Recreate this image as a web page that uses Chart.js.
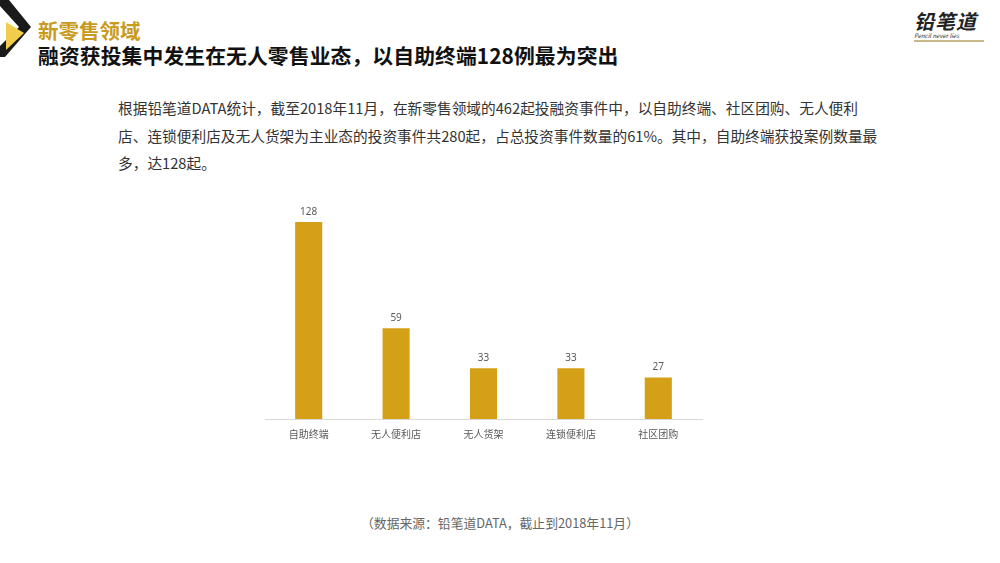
<!DOCTYPE html>
<html>
<head>
<meta charset="utf-8">
<script src="https://cdn.jsdelivr.net/npm/chart.js@4"></script>
<style>
  body { margin: 0; width: 1000px; height: 563px; background: #fff; position: relative; overflow: hidden;
         font-family: "Noto Sans CJK SC", "Noto Sans", sans-serif; }
  #mark { position: absolute; left: 0; top: 0; }
  #sub { position: absolute; left: 38px; top: 17px; font-size: 20.5px; font-weight: bold; color: #c89b1e; line-height: 26px; }
  #title { position: absolute; left: 38px; top: 42px; font-size: 20.8px; font-weight: bold; color: #111; line-height: 26px; letter-spacing: 0.1px; }
  #logo { position: absolute; left: 914px; top: 10px; width: 76px; }
  #logo .big { font-size: 20px; font-weight: bold; font-style: italic; color: #222; line-height: 22px; letter-spacing: 1px; }
  #logo .small { font-size: 6px; font-style: italic; color: #333; line-height: 7px; }
  #logo .bar { height: 2px; background: #c9b98a; margin-top: 1px; width: 70px; }
  #desc { position: absolute; left: 118px; top: 94px; font-size: 14.7px; color: #333; line-height: 27.5px; }
  #wrap { position: absolute; left: 255px; top: 190px; width: 457px; height: 260px; }
  #source { position: absolute; left: 0; width: 1000px; top: 513px; text-align: center; font-size: 12.8px; color: #666; }
</style>
</head>
<body>
<svg id="mark" width="40" height="60">
  <polygon points="0,0 9,0 31,27 5,57 0,57 0,46 19,27 0,6" fill="#1a1a1a"/>
  <polygon points="6,22 24,33 6,50" fill="#f2cd4b"/>
</svg>
<div id="sub">新零售领域</div>
<div id="title">融资获投集中发生在无人零售业态，以自助终端128例最为突出</div>
<div id="logo">
  <div class="big">铅笔道</div>
  <div class="small">Pencil never lies</div>
  <div class="bar"></div>
</div>
<div id="desc">根据铅笔道DATA统计，截至2018年11月，在新零售领域的462起投融资事件中，以自助终端、社区团购、无人便利<br>店、连锁便利店及无人货架为主业态的投资事件共280起，占总投资事件数量的61%。其中，自助终端获投案例数量最<br>多，达128起。</div>
<div id="wrap"><canvas id="chart"></canvas></div>
<div id="source">（数据来源：铅笔道DATA，截止到2018年11月）</div>

<script>
const categories = ["自助终端", "无人便利店", "无人货架", "连锁便利店", "社区团购"];
const deals = [128, 59, 33, 33, 27];

const valueLabels = {
  id: "valueLabels",
  afterDatasetsDraw(chart) {
    const c = chart.ctx;
    const meta = chart.getDatasetMeta(0);
    c.save();
    c.font = "10px 'Noto Sans', sans-serif";
    c.fillStyle = "#595959";
    c.textAlign = "center";
    c.textBaseline = "middle";
    meta.data.forEach((bar, i) => {
      c.fillText(deals[i], bar.x, bar.y - 10);
    });
    c.restore();
  },
};

const ctx = document.getElementById("chart").getContext("2d");

const dealChart = new Chart(ctx, {
  type: "bar",
  data: {
    labels: categories,
    datasets: [
      {
        data: deals,
        backgroundColor: "#d4a017",
        categoryPercentage: 1,
        barPercentage: 0.31,
      },
    ],
  },
  options: {
    responsive: true,
    maintainAspectRatio: false,
    animation: false,
    layout: { padding: { left: 10, right: 10, top: 13.5, bottom: 0 } },
    scales: {
      x: {
        grid: { display: false },
        border: { color: "#d9d9d9" },
        ticks: { color: "#595959", font: { size: 10, family: "'Noto Sans CJK SC', sans-serif" }, padding: 1 },
        afterFit(scale) {
          scale.height = 31;
        },
      },
      y: {
        display: false,
        min: 0,
        max: 140,
      },
    },
    plugins: {
      legend: { display: false },
      tooltip: { enabled: false },
    },
  },
  plugins: [valueLabels],
});
</script>
</body>
</html>
